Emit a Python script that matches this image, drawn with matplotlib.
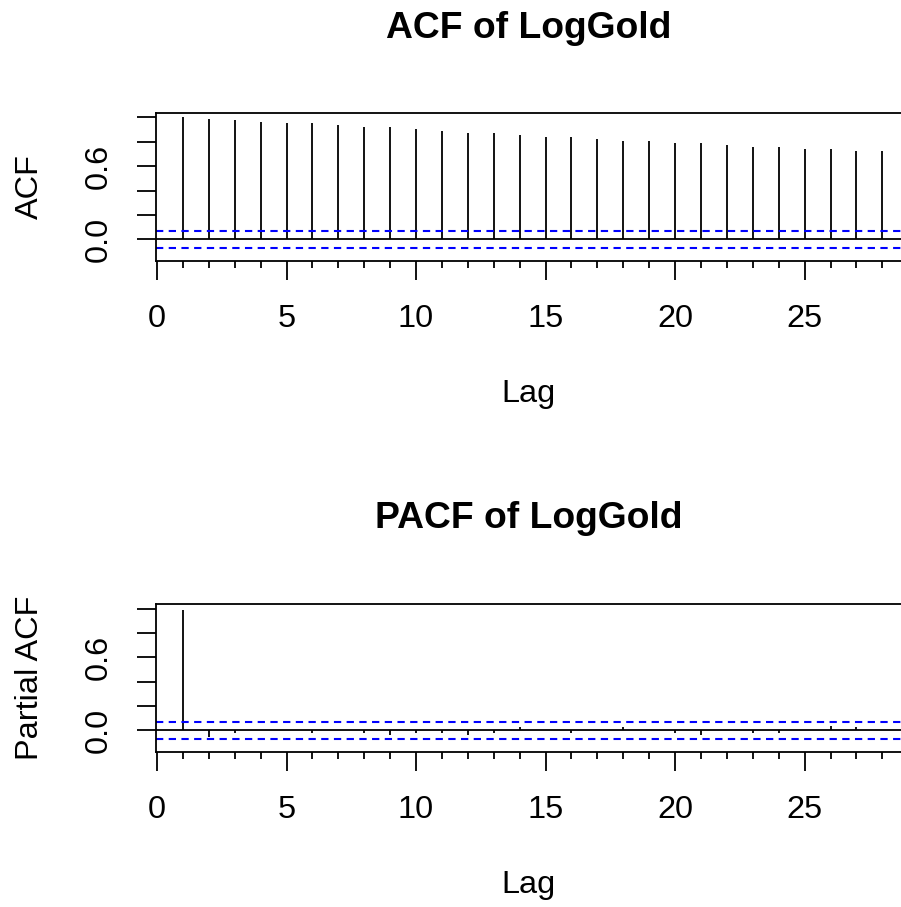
import numpy as np
import matplotlib
matplotlib.use("Agg")
import matplotlib.pyplot as plt

# values
lags = list(range(1, 29))
acf_vals = [1.0, 0.984, 0.981, 0.964, 0.951, 0.951, 0.934, 0.918, 0.918, 0.902,
            0.885, 0.869, 0.869, 0.852, 0.836, 0.836, 0.820, 0.806, 0.806, 0.790,
            0.790, 0.773, 0.757, 0.757, 0.740, 0.740, 0.727, 0.724]
pacf_vals = [0.988, -0.055, -0.02, 0.0, 0.0, -0.02, 0.0, -0.02, -0.04, -0.02,
             -0.02, -0.035, -0.02, 0.03, 0.0, -0.02, 0.0, 0.03, 0.0, -0.02,
             -0.04, 0.0, -0.02, -0.02, 0.0, 0.04, 0.025, 0.0]
conf_limit = 0.07
y_ticks = [0.0, 0.2, 0.4, 0.6, 0.8, 1.0]
y_ticklabels = ["0.0", "", "", "0.6", "", ""]
x_major = [0, 5, 10, 15, 20, 25]
x_minor = [i for i in range(0, 29) if i % 5 != 0]

plt.rcParams['font.family'] = ['Liberation Sans', 'DejaVu Sans']
FS = 23.4
LW = 1.3

W, H = 901, 907
fig = plt.figure(figsize=(W / 100, H / 100), dpi=100)


def px_axes(left, top, right, bottom):
    return [left / W, 1 - bottom / H, (right - left) / W, (bottom - top) / H]


def draw_panel(rect, vals, title, title_y, ylabel):
    ax = fig.add_axes(rect)
    ax.vlines(lags, 0, vals, color='black', linewidth=LW)
    ax.axhline(0, color='black', linewidth=LW)
    for c in (conf_limit, -conf_limit):
        ax.axhline(c, color='#0000ff', linewidth=1.5, linestyle=(0, (3.5, 2.6)))
    ax.set_xlim(-0.05, 28.77)
    ax.set_ylim(-0.175, 1.038)
    for s in ax.spines.values():
        s.set_linewidth(LW)
    ax.set_xticks(x_major)
    ax.set_xticks(x_minor, minor=True)
    ax.set_xticklabels([str(v) for v in x_major], fontsize=FS)
    ax.tick_params(axis='x', which='major', length=13.7, width=LW, pad=17.5)
    ax.tick_params(axis='x', which='minor', length=5, width=LW)
    ax.set_yticks(y_ticks)
    ax.set_yticklabels(y_ticklabels, fontsize=FS, rotation=90, ha='center', va='center')
    ax.tick_params(axis='y', which='major', length=13.7, width=LW, pad=27.5)
    ax.text(0.5, title_y, title, transform=ax.transAxes, fontsize=26.8,
            fontweight='bold', ha='center', va='center')
    ax.set_ylabel(ylabel, fontsize=FS)
    ax.yaxis.set_label_coords(-0.169, 0.5)
    ax.set_xlabel("Lag", fontsize=FS)
    ax.xaxis.set_label_coords(0.5, -0.9)
    ax.xaxis.label.set_va('center')
    ax.yaxis.label.set_va('center')
    return ax


draw_panel(px_axes(155.7, 112.7, 902.3, 260.7), acf_vals, "ACF of LogGold", 1.566, "ACF")
draw_panel(px_axes(155.7, 604.0, 902.3, 751.7), pacf_vals, "PACF of LogGold", 1.582, "Partial ACF")

fig.savefig("out.png", dpi=100)
